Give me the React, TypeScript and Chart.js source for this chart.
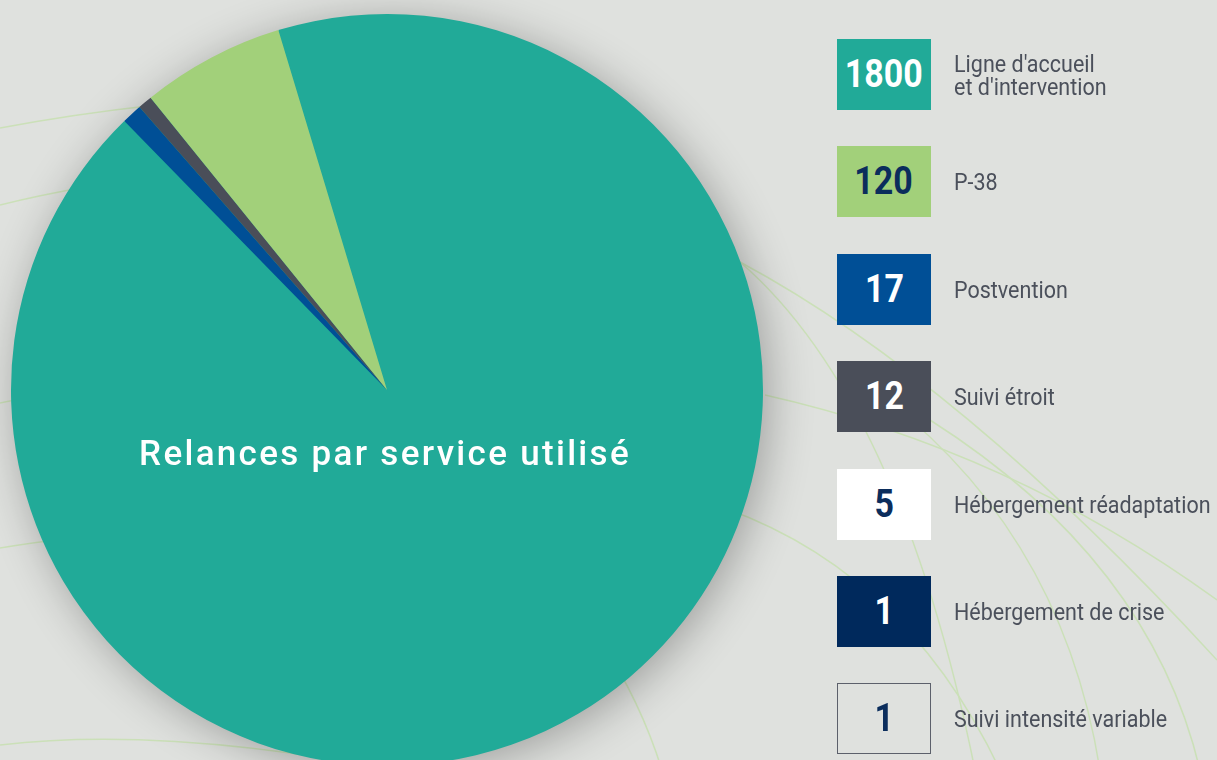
import React, { useEffect, useRef } from "react";
import { Chart, registerables } from "chart.js";

Chart.register(...registerables);

// ---- data ----
const categories = [
  "Ligne d'accueil\net d'intervention",
  "P-38",
  "Postvention",
  "Suivi étroit",
  "Hébergement réadaptation",
  "Hébergement de crise",
  "Suivi intensité variable",
];
const values = [1800, 120, 17, 12, 5, 1, 1];
const sliceColors = ["#21aa98", "#a2d07a", "#004f96", "#4a4e59", "#ffffff", "#00295c", "transparent"];
const numberColors = ["#ffffff", "#0b2d5c", "#ffffff", "#ffffff", "#0b2d5c", "#ffffff", "#0b2d5c"];
// slices visible in the pie, in clockwise order from the start angle
const pieOrder = [0, 2, 3, 1];
const title = "Relances par service utilisé";

const W = 1217;
const H = 760;
const CH = 790;

const bgPlugin = {
  id: "bgDecor",
  beforeDraw(chart: any) {
    const ctx = chart.ctx;
    ctx.save();
    ctx.fillStyle = "#dfe1de";
    ctx.fillRect(0, 0, chart.width, chart.height);
    ctx.strokeStyle = "#cbe0b8";
    ctx.lineWidth = 1.5;
    const curves: number[][] = [
      [0, 128, 150, 100, 300, 95],
      [0, 205, 80, 185, 200, 170],
      [0, 403, 20, 398, 100, 390],
      [0, 548, 60, 538, 150, 530],
      [0, 745, 170, 725, 420, 775],
      [740, 262, 960, 380, 1217, 660],
      [740, 262, 900, 400, 975, 770],
      [765, 395, 1010, 450, 1217, 600],
      [860, 380, 1060, 520, 1100, 770],
      [930, 420, 1150, 560, 1200, 770],
      [600, 640, 640, 700, 662, 770],
      [700, 500, 900, 560, 1000, 770],
    ];
    for (const c of curves) {
      ctx.beginPath();
      ctx.moveTo(c[0], c[1]);
      ctx.quadraticCurveTo(c[2], c[3], c[4], c[5]);
      ctx.stroke();
    }
    ctx.restore();
  },
};

const shadowPlugin = {
  id: "pieShadow",
  beforeDatasetsDraw(chart: any) {
    const arc = chart.getDatasetMeta(0).data[0];
    if (!arc) return;
    const ctx = chart.ctx;
    ctx.save();
    ctx.shadowColor = "rgba(0,0,0,0.30)";
    ctx.shadowBlur = 45;
    ctx.shadowOffsetX = 6;
    ctx.shadowOffsetY = 6;
    ctx.beginPath();
    ctx.arc(arc.x, arc.y, arc.outerRadius - 1, 0, Math.PI * 2);
    ctx.fillStyle = "#21aa98";
    ctx.fill();
    ctx.restore();
  },
};

const titlePlugin = {
  id: "centerTitle",
  afterDatasetsDraw(chart: any) {
    const arc = chart.getDatasetMeta(0).data[0];
    if (!arc) return;
    const ctx = chart.ctx;
    ctx.save();
    ctx.fillStyle = "#ffffff";
    ctx.font = "500 35px Roboto, 'DejaVu Sans', sans-serif";
    (ctx as any).letterSpacing = "2.3px";
    ctx.textAlign = "center";
    ctx.textBaseline = "alphabetic";
    ctx.fillText(title, arc.x - 2, arc.y + 75);
    ctx.restore();
  },
};

export default function App() {
  const ref = useRef<HTMLCanvasElement | null>(null);

  useEffect(() => {
    if (!ref.current) return;
    const chart = new Chart(ref.current, {
      type: "pie",
      data: {
        labels: pieOrder.map((i) => categories[i].replace("\n", " ")),
        datasets: [
          {
            data: pieOrder.map((i) => values[i]),
            backgroundColor: pieOrder.map((i) => sliceColors[i]),
            borderWidth: 0,
          },
        ],
      },
      options: {
        responsive: false,
        animation: false,
        devicePixelRatio: 1,
        rotation: -16.8,
        layout: { padding: { left: 11, top: 14, right: W - 763, bottom: CH - 766 } },
        plugins: {
          legend: { display: false },
          tooltip: { enabled: false },
        },
      },
      plugins: [bgPlugin, shadowPlugin, titlePlugin],
    });
    return () => chart.destroy();
  }, []);

  return (
    <div
      style={{
        position: "fixed",
        left: 0,
        top: 0,
        width: W,
        height: H,
        overflow: "hidden",
        background: "#dfe1de",
      }}
    >
      <canvas ref={ref} width={W} height={CH} style={{ position: "absolute", left: 0, top: 0, width: W, height: CH }} />
      {categories.map((cat, i) => {
        const top = 39 + i * 107.4;
        const outlined = sliceColors[i] === "transparent";
        return (
          <React.Fragment key={i}>
            <div
              style={{
                position: "absolute",
                left: 837,
                top,
                width: 94,
                height: 71,
                boxSizing: "border-box",
                background: outlined ? "transparent" : sliceColors[i],
                border: outlined ? "1.5px solid #5c606b" : "none",
                display: "flex",
                alignItems: "center",
                justifyContent: "center",
              }}
            >
              <span
                style={{
                  fontFamily: "Roboto, 'DejaVu Sans', sans-serif",
                  fontWeight: 700,
                  fontSize: 39,
                  lineHeight: 1,
                  color: numberColors[i],
                  display: "inline-block",
                  transform: "scaleX(0.87)",
                }}
              >
                {values[i]}
              </span>
            </div>
            <div
              style={{
                position: "absolute",
                left: 954,
                top,
                height: 71,
                display: "flex",
                alignItems: "center",
              }}
            >
              <span
                style={{
                  fontFamily: "Roboto, 'DejaVu Sans', sans-serif",
                  fontSize: 23,
                  lineHeight: "23px",
                  color: "#4b505b",
                  whiteSpace: "pre",
                  display: "inline-block",
                  transform: "scaleX(0.935)",
                  transformOrigin: "left center",
                  marginTop: 2,
                }}
              >
                {cat}
              </span>
            </div>
          </React.Fragment>
        );
      })}
    </div>
  );
}
